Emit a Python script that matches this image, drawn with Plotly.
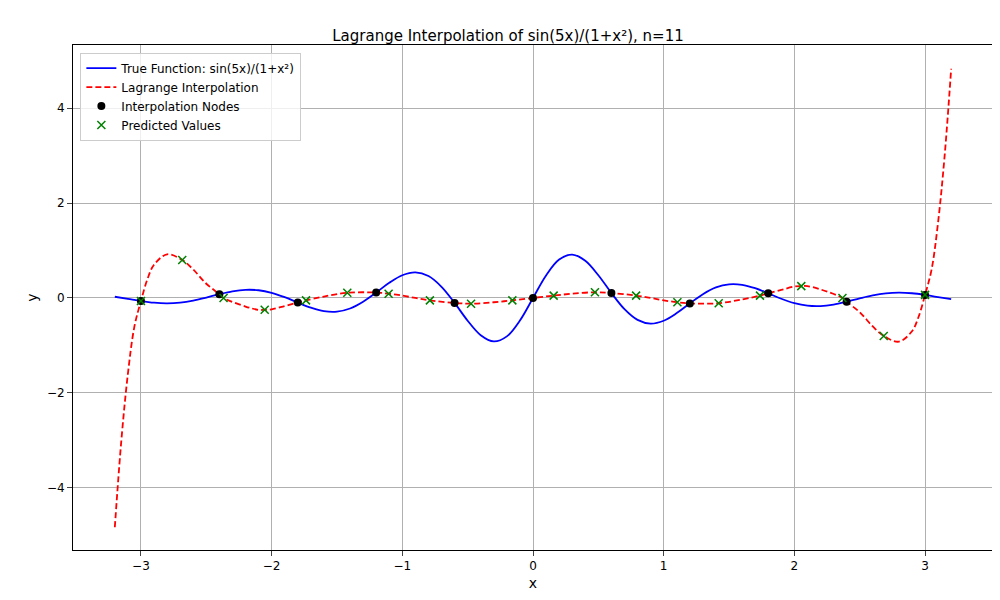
import plotly.graph_objects as go

# True function samples (x >= 0); odd function mirrored
xt_pos = [0.0,0.1,0.2,0.3,0.4,0.5,0.6,0.7,0.8,0.9,1.0,1.1,1.2,1.3,1.4,1.5,1.6,1.7,1.8,1.9,2.0,2.1,2.2,2.3,2.4,2.5,2.6,2.7,2.8,2.9,3.0,3.1,3.2]
yt_pos = [0.0,0.4747,0.8091,0.9151,0.7839,0.4788,0.1038,-0.2354,-0.4615,-0.5401,-0.4795,-0.3192,-0.1145,0.0800,0.2220,0.2886,0.2779,0.2053,0.0972,-0.0163,-0.1088,-0.1626,-0.1712,-0.1392,-0.0794,-0.0091,0.0541,0.0970,0.1121,0.0994,0.0650,0.0191,-0.0256]

# Lagrange interpolation samples (x >= 0)
xl_pos = [0.0,0.158,0.3,0.474,0.6,0.789,0.9,1.0,1.105,1.2,1.421,1.6,1.737,1.8,1.9,2.0,2.053,2.1,2.2,2.368,2.4,2.5,2.6,2.684,2.8,2.9,2.95,3.0,3.05,3.1,3.15,3.2]
yl_pos = [0.0,0.05,0.09,0.12,0.104,0.05,0.0,-0.05,-0.09,-0.114,-0.11,-0.03,0.05,0.097,0.17,0.24,0.25,0.25,0.18,0.0,-0.079,-0.3,-0.6,-0.8,-0.92,-0.7,-0.4,0.065,0.6,1.6,3.0,4.83]

node_x = [-3.0,-2.4,-1.8,-1.2,-0.6,0.0,0.6,1.2,1.8,2.4,3.0]
node_y = [-0.065,0.0794,-0.0972,0.1145,-0.1038,0.0,0.1038,-0.1145,0.0972,-0.0794,0.065]

pred_x_pos = [0.158,0.474,0.789,1.105,1.421,1.737,2.053,2.368,2.684,3.0]
pred_y_pos = [0.05,0.12,0.05,-0.09,-0.11,0.05,0.25,0.0,-0.8,0.065]

def mirror(xs, ys):
    nx = [-x for x in reversed(xs) if x != 0] + list(xs)
    ny = [-y for x, y in zip(reversed(xs), reversed(ys)) if x != 0] + list(ys)
    return nx, ny

xt, yt = mirror(xt_pos, yt_pos)
xl, yl = mirror(xl_pos, yl_pos)
px, py = mirror(pred_x_pos, pred_y_pos)

fig = go.Figure()
fig.add_trace(go.Scatter(x=xt, y=yt, mode='lines', line=dict(color='blue', width=1.8, shape='spline'),
                         name='True Function: sin(5x)/(1+x²)'))
fig.add_trace(go.Scatter(x=xl, y=yl, mode='lines', line=dict(color='red', width=1.8, dash='6px,3px', shape='spline'),
                         name='Lagrange Interpolation'))
fig.add_trace(go.Scatter(x=node_x, y=node_y, mode='markers', marker=dict(color='black', size=8),
                         name='Interpolation Nodes'))
fig.add_trace(go.Scatter(x=px, y=py, mode='markers', marker=dict(color='green', size=8, symbol='x-thin', line=dict(color='green', width=1.5)),
                         name='Predicted Values'))

fig.update_layout(
    width=1000, height=600, plot_bgcolor='white', paper_bgcolor='white',
    margin=dict(l=65, r=15, t=37, b=58),
    font=dict(family='DejaVu Sans', size=12, color='black'),
    title=dict(text='Lagrange Interpolation of sin(5x)/(1+x²), n=11', x=0.5, xanchor='center', y=0.963, font=dict(size=15)),
    legend=dict(x=0.008, y=0.985, xanchor='left', yanchor='top', bordercolor='#cccccc', borderwidth=1,
                bgcolor='rgba(255,255,255,0.8)', font=dict(size=12)),
    showlegend=True,
)
fig.update_xaxes(range=[-3.52, 3.52], tickvals=[-3,-2,-1,0,1,2,3], ticktext=['−3','−2','−1','0','1','2','3'],
                 showgrid=True, gridcolor='#b0b0b0', zeroline=False, showline=True, linecolor='black', mirror=True,
                 ticks='outside', automargin=False, title=dict(text='x', standoff=5))
fig.update_yaxes(range=[-5.31, 5.33], tickvals=[-4,-2,0,2,4], ticktext=['−4','−2','0','2','4'],
                 showgrid=True, gridcolor='#b0b0b0', zeroline=False, showline=True, linecolor='black', mirror=True,
                 ticks='outside', automargin=False, title=dict(text='y', standoff=5))
fig.write_html('out.html')
